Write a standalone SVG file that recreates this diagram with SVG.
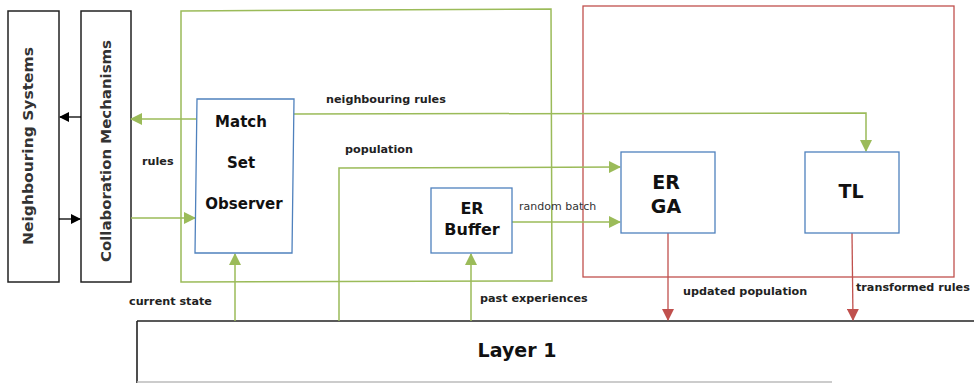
<svg xmlns="http://www.w3.org/2000/svg" width="974" height="383" viewBox="0 0 974 383">
<style>
.bx{fill:#fff;stroke:#222;stroke-width:1.5}
.nb{fill:#fff;stroke:#4F81BD;stroke-width:1.3}
.g{fill:none;stroke:#9BBB59;stroke-width:1.5}
.r{fill:none;stroke:#C0504D;stroke-width:1.3}
.k{fill:none;stroke:#000;stroke-width:1.3}
.t{font-family:"DejaVu Sans",Verdana,sans-serif;font-weight:bold;fill:#111}
.lb{font-family:"DejaVu Sans",Verdana,sans-serif;font-weight:bold;font-size:11.2px;fill:#222}
.vt{font-family:"DejaVu Sans",Verdana,sans-serif;font-weight:bold;font-size:14px;fill:#333}
</style>
<defs>
<marker id="ag" markerWidth="12" markerHeight="12" refX="11" refY="6" orient="auto" markerUnits="userSpaceOnUse"><path d="M0,0 L12,6 L0,12 Z" fill="#9BBB59"/></marker>
<marker id="ar" markerWidth="12" markerHeight="12" refX="11" refY="6" orient="auto" markerUnits="userSpaceOnUse"><path d="M0,0 L12,6 L0,12 Z" fill="#C0504D"/></marker>
<marker id="ak" markerWidth="10" markerHeight="10" refX="9" refY="5" orient="auto" markerUnits="userSpaceOnUse"><path d="M0,0 L10,5 L0,10 Z" fill="#000"/></marker>
</defs>
<g id="green-container"><path class="g" d="M181,11 L551,9 L552,281 L181,282 Z"/></g>
<g id="red-container"><rect class="r" x="583" y="6" width="371" height="271"/></g>
<g id="neighbouring-systems">
<rect class="bx" x="8" y="11" width="51" height="271"/>
<text class="vt" transform="translate(33,146) rotate(-90)" text-anchor="middle" textLength="198" lengthAdjust="spacingAndGlyphs">Neighbouring Systems</text>
</g>
<g id="collaboration-mechanisms">
<rect class="bx" x="81" y="11" width="50" height="271"/>
<text class="vt" transform="translate(111,151) rotate(-90)" text-anchor="middle" textLength="222" lengthAdjust="spacingAndGlyphs">Collaboration Mechanisms</text>
</g>
<g id="layer1">
<path d="M137,321 L974,321" stroke="#222" stroke-width="1.6" fill="none"/>
<path d="M137,321 L137,383" stroke="#222" stroke-width="1.6" fill="none"/>
<path d="M137,382 L832,382" stroke="#bbb" stroke-width="1.5" fill="none"/>
<text class="t" x="517" y="357" font-size="19" text-anchor="middle">Layer 1</text>
</g>
<g id="connectors">
<path class="k" d="M81,117 L60,117" marker-end="url(#ak)"/>
<path class="k" d="M59,219 L80,219" marker-end="url(#ak)"/>
<path class="g" d="M196,119 L131,119" marker-end="url(#ag)"/>
<path class="g" d="M131,218 L195,218" marker-end="url(#ag)"/>
<path class="g" d="M294,114 L866,113 L866,151" marker-end="url(#ag)"/>
<path class="g" d="M339,321 L339,168 L620,167" marker-end="url(#ag)"/>
<path class="g" d="M512,222 L620,222" marker-end="url(#ag)"/>
<path class="g" d="M235,321 L235,254" marker-end="url(#ag)"/>
<path class="g" d="M471,321 L471,254" marker-end="url(#ag)"/>
<path class="r" d="M668,233 L668,320" marker-end="url(#ar)"/>
<path class="r" d="M852,233 L853,320" marker-end="url(#ar)"/>
<text class="lb" x="142" y="165">rules</text>
<text class="lb" x="326" y="103">neighbouring rules</text>
<text class="lb" x="345" y="153">population</text>
<text x="519" y="210" font-family="DejaVu Sans,Verdana,sans-serif" font-size="11" fill="#333">random batch</text>
<text class="lb" x="129" y="305">current state</text>
<text class="lb" x="480" y="302">past experiences</text>
<text class="lb" x="683" y="295">updated population</text>
<text class="lb" x="856" y="291">transformed rules</text>
</g>
<g id="match-set-observer">
<path class="nb" d="M197,99 L294,99 L292,253 L195,253 Z"/>
<text class="t" font-size="15" text-anchor="middle"><tspan x="241" y="127">Match</tspan><tspan x="241" y="168">Set</tspan><tspan x="244" y="209">Observer</tspan></text>
</g>
<g id="er-buffer">
<rect class="nb" x="431" y="188" width="81" height="65"/>
<text class="t" font-size="16" text-anchor="middle"><tspan x="472" y="214">ER</tspan><tspan x="472" y="235">Buffer</tspan></text>
</g>
<g id="er-ga">
<rect class="nb" x="621" y="152" width="94" height="81"/>
<text class="t" font-size="19" text-anchor="middle"><tspan x="666" y="189">ER</tspan><tspan x="666" y="213">GA</tspan></text>
</g>
<g id="tl">
<rect class="nb" x="805" y="152" width="94" height="81"/>
<text class="t" font-size="19" text-anchor="middle" x="851" y="198">TL</text>
</g>
</svg>
